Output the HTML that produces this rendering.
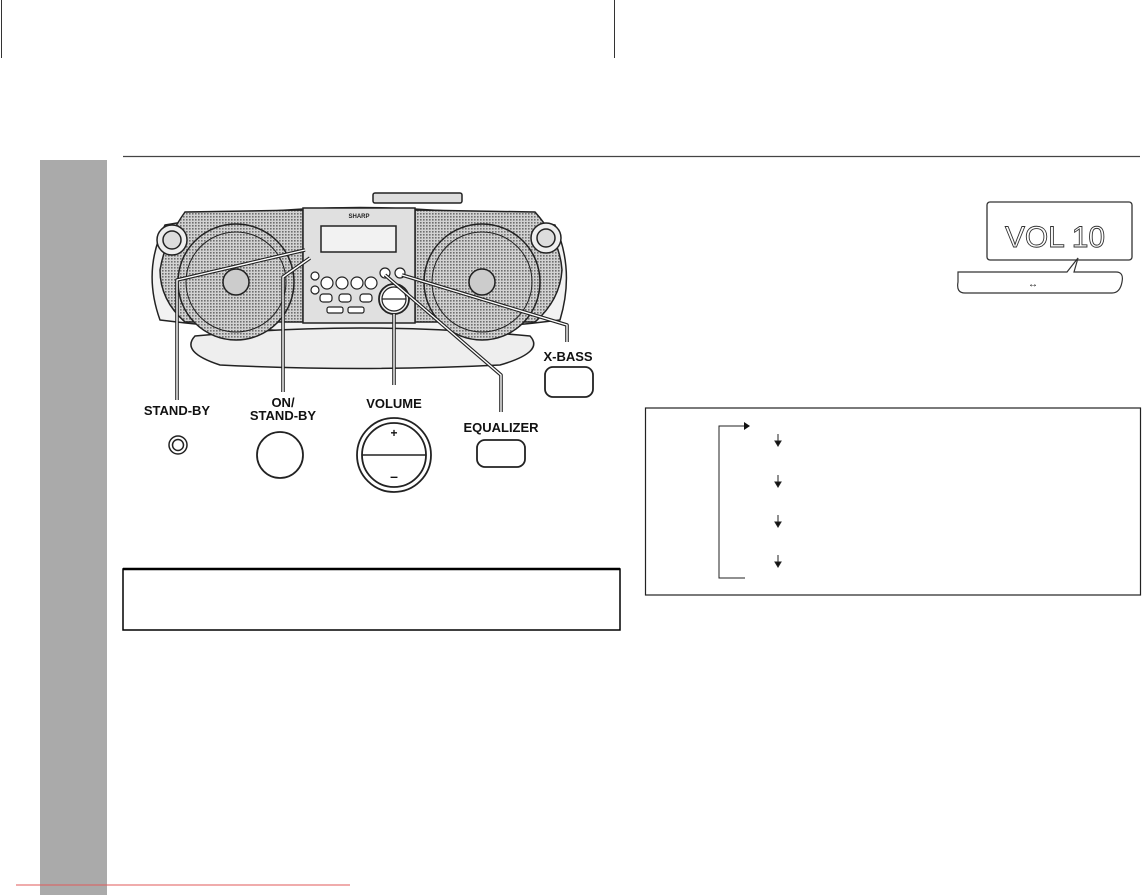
<!DOCTYPE html>
<html><head><meta charset="utf-8"><style>
html,body{margin:0;padding:0;background:#fff;}
svg{display:block;}
text{font-family:"Liberation Sans",Arial,sans-serif;}
</style></head><body>
<svg width="1143" height="895" viewBox="0 0 1143 895" xmlns="http://www.w3.org/2000/svg">
<defs>
<pattern id="g" width="3" height="3" patternUnits="userSpaceOnUse">
<rect width="3" height="3" fill="#d2d2d2"/><rect width="1.6" height="1.6" fill="#6e6e6e"/>
</pattern>
</defs>
<line x1="1.5" y1="0" x2="1.5" y2="58" stroke="#333" stroke-width="1"/>
<line x1="614.5" y1="0" x2="614.5" y2="58" stroke="#333" stroke-width="1"/>
<line x1="123" y1="156.5" x2="1140" y2="156.5" stroke="#444" stroke-width="1.3"/>
<rect x="40" y="160" width="67" height="735" fill="#aaaaaa"/>
<line x1="16" y1="885" x2="350" y2="885" stroke="#e05a5a" stroke-width="1"/>

<g stroke="#222" stroke-width="1.5">
<rect x="373" y="193" width="89" height="10" fill="#ddd" rx="2"/>
<path d="M165 225 Q360 190 555 225 Q575 270 560 320 Q360 345 160 320 Q142 270 165 225Z" fill="#f2f2f2"/>
<path d="M195 336 Q360 320 530 336 Q545 352 500 365 Q360 372 220 365 Q180 352 195 336Z" fill="#eee"/>
<path d="M185 212 L303 210 L303 322 L185 322 Q160 300 160 270 Q165 240 185 212Z" fill="url(#g)"/>
<path d="M415 210 L535 212 Q560 240 562 270 Q560 300 535 322 L415 322Z" fill="url(#g)"/>
<circle cx="236" cy="282" r="58" fill="url(#g)"/>
<circle cx="236" cy="282" r="50" fill="none" stroke-width="1"/>
<circle cx="236" cy="282" r="13" fill="#ccc"/>
<circle cx="482" cy="282" r="58" fill="url(#g)"/>
<circle cx="482" cy="282" r="50" fill="none" stroke-width="1"/>
<circle cx="482" cy="282" r="13" fill="#ccc"/>
<circle cx="172" cy="240" r="15" fill="#eee"/><circle cx="172" cy="240" r="9" fill="#ddd"/>
<circle cx="546" cy="238" r="15" fill="#eee"/><circle cx="546" cy="238" r="9" fill="#ddd"/>
<rect x="303" y="208" width="112" height="115" fill="#e0e0e0"/>
<rect x="321" y="226" width="75" height="26" fill="#f2f2f2"/>
<g fill="#fff" stroke-width="1.2">
<circle cx="315" cy="276" r="4"/><circle cx="315" cy="290" r="4"/>
<circle cx="327" cy="283" r="6"/><circle cx="342" cy="283" r="6"/><circle cx="357" cy="283" r="6"/><circle cx="371" cy="283" r="6"/>
<circle cx="385" cy="273" r="5"/><circle cx="400" cy="273" r="5"/>
<rect x="320" y="294" width="12" height="8" rx="3"/><rect x="339" y="294" width="12" height="8" rx="3"/><rect x="360" y="294" width="12" height="8" rx="3"/>
<rect x="327" y="307" width="16" height="6" rx="2"/><rect x="348" y="307" width="16" height="6" rx="2"/>
<circle cx="394" cy="299" r="15" fill="#eee" stroke-width="1.8"/><circle cx="394" cy="299" r="12"/>
<line x1="382" y1="299" x2="406" y2="299"/>
</g>
<text x="359" y="218" font-size="6" font-weight="bold" text-anchor="middle" stroke="none" fill="#222">SHARP</text>
</g>

<g fill="none" stroke-linejoin="round">
<g stroke="#222" stroke-width="3.6">
<polyline points="305,250 177,280 177,400"/>
<polyline points="310,258 283,277 283,392"/>
<polyline points="394,314 394,385"/>
<polyline points="385,275 501,375 501,412"/>
<polyline points="402,275 567,325 567,342"/>
</g>
<g stroke="#fff" stroke-width="1.4">
<polyline points="305,250 177,280 177,400"/>
<polyline points="310,258 283,277 283,392"/>
<polyline points="394,314 394,385"/>
<polyline points="385,275 501,375 501,412"/>
<polyline points="402,275 567,325 567,342"/>
</g>
</g>

<g font-size="13" font-weight="bold" fill="#111" text-anchor="middle">
<text x="177" y="415">STAND-BY</text>
<text x="283" y="407">ON/</text>
<text x="283" y="420">STAND-BY</text>
<text x="394" y="408">VOLUME</text>
<text x="501" y="432">EQUALIZER</text>
<text x="568" y="361">X-BASS</text>
</g>
<g fill="#fff" stroke="#222">
<circle cx="178" cy="445" r="9" stroke-width="1.5"/><circle cx="178" cy="445" r="5.5" stroke-width="1.5"/>
<circle cx="280" cy="455" r="23" stroke-width="1.8"/>
<circle cx="394" cy="455" r="37" stroke-width="1.8"/><circle cx="394" cy="455" r="32" stroke-width="1.8"/>
<line x1="362" y1="455" x2="426" y2="455" stroke-width="1.5"/>
<rect x="477" y="440" width="48" height="27" rx="8" stroke-width="1.8"/>
<rect x="545" y="367" width="48" height="30" rx="8" stroke-width="1.8"/>
</g>
<text x="394" y="437" font-size="12" font-weight="bold" text-anchor="middle" fill="#111">+</text>
<text x="394" y="481" font-size="14" font-weight="bold" text-anchor="middle" fill="#111">–</text>

<rect x="123" y="569" width="497" height="61" fill="none" stroke="#000" stroke-width="1.5"/>
<line x1="123" y1="569" x2="620" y2="569" stroke="#000" stroke-width="2.5"/>

<rect x="987" y="202" width="145" height="58" rx="3" fill="#fff" stroke="#333" stroke-width="1.3"/>
<text x="1005" y="247" font-size="30" fill="none" stroke="#333" stroke-width="0.9" textLength="100" lengthAdjust="spacing">VOL 10</text>
<path d="M958 272 L1067 272 L1078 258 L1074 272 L1116 272 Q1124 272 1122 282 Q1120 293 1112 293 L965 293 Q956 293 958 282Z" fill="#fff" stroke="#333" stroke-width="1.2"/>
<text x="1033" y="287" font-size="10" text-anchor="middle" fill="#111">↔</text>

<rect x="645.5" y="408" width="495" height="187" fill="none" stroke="#222" stroke-width="1.2"/>
<polyline points="745,578 719,578 719,426 744,426" fill="none" stroke="#222" stroke-width="1"/>
<path d="M744 422 L750 426 L744 430Z" fill="#111"/>
<g stroke="#222" stroke-width="1" fill="#111">
<line x1="778" y1="434" x2="778" y2="442"/><path d="M775 441 L781 441 L778 446Z"/>
<line x1="778" y1="475" x2="778" y2="483"/><path d="M775 482 L781 482 L778 487Z"/>
<line x1="778" y1="515" x2="778" y2="523"/><path d="M775 522 L781 522 L778 527Z"/>
<line x1="778" y1="555" x2="778" y2="563"/><path d="M775 562 L781 562 L778 567Z"/>
</g>
</svg>
</body></html>
